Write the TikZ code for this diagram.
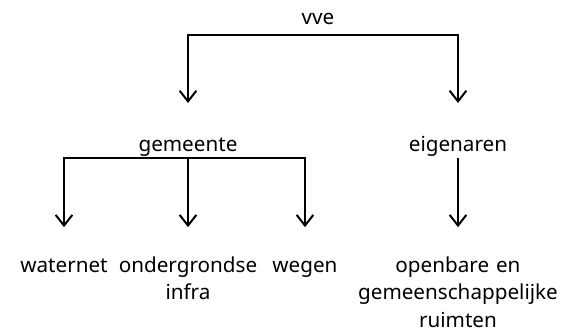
\documentclass[tikz,border=0pt]{standalone}
\usepackage{fontspec}
\setmainfont{Noto Sans}
\usetikzlibrary{arrows.meta}

\tikzset{
  lbl/.style={inner sep=0pt,anchor=base,font=\fontsize{15.5}{20.8}\selectfont},
  blad/.style={lbl,align=center,text width=170pt}
}

\begin{document}
\begin{tikzpicture}[x=0.75pt,y=-0.75pt,>={Straight Barb[length=8pt,width=12.5pt]},line width=1.5pt]
\useasboundingbox (0,0) rectangle (562,333);

\node[lbl] (vve)       at (318,24)  {vve};
\node[lbl] (gemeente)  at (188,151) {gemeente};
\node[lbl] (eigenaren) at (458,151) {eigenaren};

\node[blad] (waternet) at (64,272)  {waternet};
\node[blad] (infra)    at (188,272) {ondergrondse\\infra};
\node[blad] (wegen)    at (305,272) {wegen};
\node[blad] (ruimten)  at (458,272) {openbare en\\gemeenschappelijke\\ruimten};

% vve
\draw[->] ([yshift=-8.25pt]vve.base) -| ([yshift=36pt]gemeente.base);
\draw[->] ([yshift=-8.25pt]vve.base) -| ([yshift=36pt]eigenaren.base);

% gemeente
\draw[->] ([yshift=-5.6pt]gemeente.base) -| ([yshift=33.6pt]waternet.base);
\draw[->] ([yshift=-5.6pt]gemeente.base) -- ([yshift=33.6pt]infra.base);
\draw[->] ([yshift=-5.6pt]gemeente.base) -| ([yshift=33.6pt]wegen.base);

% eigenaren
\draw[->] ([yshift=-5.6pt]eigenaren.base) -- ([yshift=33.6pt]ruimten.base);

\end{tikzpicture}
\end{document}
